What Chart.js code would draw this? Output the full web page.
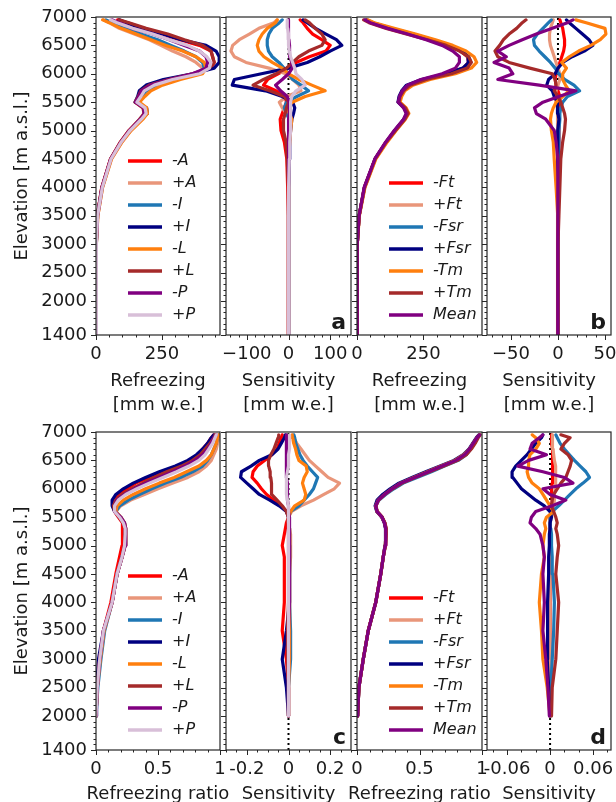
<!DOCTYPE html>
<html>
<head>
<meta charset="utf-8">
<script src="https://cdn.jsdelivr.net/npm/chart.js@4/dist/chart.umd.min.js"></script>
<style>
html, body { margin: 0; padding: 0; background: #fff; width: 616px; height: 802px; overflow: hidden; }
canvas { position: absolute; }
</style>
</head>
<body>
<script>
// elevation levels (m a.s.l.) shared by every profile
const elev = [1400, 2000, 2500, 3000, 3500, 4000, 4500, 4800, 5000, 5200, 5300, 5400, 5500, 5600,
  5700, 5800, 5900, 6000, 6100, 6200, 6300, 6400, 6500, 6600, 6700, 6800, 6900, 6950];
const elevTicks = [1400, 2000, 2500, 3000, 3500, 4000, 4500, 5000, 5500, 6000, 6500, 7000];

const labelsA = ['-A', '+A', '-I', '+I', '-L', '+L', '-P', '+P'];
const labelsF = ['-Ft', '+Ft', '-Fsr', '+Fsr', '-Tm', '+Tm', 'Mean'];
const colorsA = ['#ff0000', '#e9967a', '#1f77b4', '#000080', '#ff7f0e', '#a52a2a', '#800080', '#d8bfd8'];
const colorsF = ['#ff0000', '#e9967a', '#1f77b4', '#000080', '#ff7f0e', '#a52a2a', '#800080'];

// a) refreezing [mm w.e.]
const refr_mA = [0,0,1,2,5,22,55,93,125, 168,185,180,150,162,172,202,284,379,436,448,442,436,392,316,253,177,120,82];
const refr_pA = [0,0,1,3,7,25,58,98,132, 175,192,188,158,175,190,234,300,392,404,379,341,290,246,202,145,88,50,30];
const refr_mI = [0,0,1,3,6,24,57,96,130, 172,190,186,155,172,190,240,300,385,410,404,379,335,284,234,170,107,60,38];
const refr_pI = [0,0,1,2,5,23,56,95,128, 168,195,192,148,158,164,190,255,366,448,467,467,455,417,322,253,164,115,88];
const refr_mL = [0,0,1,3,7,25,59,99,133, 178,195,192,165,185,208,252,320,404,417,410,379,328,265,208,152,95,50,25];
const refr_pL = [0,0,1,2,5,22,55,93,125, 165,182,178,148,160,170,202,275,366,430,448,442,436,404,335,272,190,125,88];
const refr_mP = [0,0,1,2,6,23,56,95,127, 168,185,182,150,162,172,208,280,366,417,423,417,392,335,278,215,139,88,60];
const refr_pP = [0,0,1,3,6,24,57,96,129, 172,190,186,155,170,183,221,290,392,430,436,420,392,347,278,215,139,80,55];

// a) sensitivity [mm w.e.]
const sens_mA = [0,0,0,0,-1,-2,-4,-10,-18, -20,-15,-10,-5,-8,-30,-60,-50,-25,0,18,50,90,100,80,58,45,35,28];
const sens_pA = [0,0,0,0,0,0,0,2,5, 5,-5,-15,-22,-5,30,25,10,-7,-47,-102,-130,-138,-134,-118,-94,-71,-35,-27];
const sens_mI = [0,0,0,0,0,0,1,2,2, 2,-5,-10,-5,20,48,30,10,0,-11,-23,-39,-48,-51,-51,-47,-39,-22,-15];
const sens_pI = [0,0,0,0,0,1,2,3,5, 8,12,15,10,-15,-55,-135,-130,-65,0,45,75,100,128,115,90,65,45,35];
const sens_mL = [0,0,0,0,0,0,1,3,5, 8,2,-3,9,40,88,56,25,0,-15,-39,-59,-71,-75,-71,-63,-51,-31,-27];
const sens_pL = [0,0,0,0,0,-1,-3,-6,-12, -12,-8,-5,0,-10,-45,-85,-60,-30,-5,10,25,48,80,88,80,64,50,40];
const sens_mP = [0,0,0,0,0,0,0,0,0, 1,2,2,2,-3,-19,-31,-15,0,9,8,3,3,2,1,0,0,0,0];
const sens_pP = [0,0,0,0,0,1,2,3,5, 5,5,5,5,8,18,40,32,18,15,10,5,2,0,0,0,-2,-3,-3];

// b) refreezing [mm w.e.]
const refrF_mFt = [0,0,1,2,8,28,68,110,142, 177,188,178,155,160,172,193,250,340,400,420,415,390,345,280,205,125,55,35];
const refrF_pFt = [0,0,1,2,8,28,69,111,143, 178,189,179,156,161,173,195,252,342,402,422,417,392,347,282,207,127,57,36];
const refrF_mFsr = [0,0,1,2,8,29,69,111,144, 179,190,180,157,163,176,200,258,350,408,428,420,392,345,278,202,122,52,32];
const refrF_pFsr = [0,0,1,2,8,28,68,110,142, 176,187,177,154,158,168,186,243,335,398,420,418,395,350,285,210,130,60,38];
const refrF_mTm = [0,0,1,2,9,30,71,114,147, 182,195,185,162,168,180,210,275,370,430,450,440,410,360,295,220,140,65,40];
const refrF_pTm = [0,0,1,2,8,28,68,110,145, 180,192,182,158,162,175,200,260,355,415,430,420,385,335,265,185,110,45,25];
const refrF_mean = [0,0,1,2,8,27,67,108,140, 175,185,175,155,160,170,190,240,320,370,385,385,360,320,260,190,115,50,30];

// b) sensitivity [mm w.e.]
const sensF_mFt = [0,0,0,0,0,0,0,1,1, 1,1,2,2,2,0,-2,-3,-2,0,2,4,6,7,7,6,5,3,2];
const sensF_pFt = [0,0,0,0,0,0,0,-1,-1, -1,-1,-1,-2,-3,-2,0,2,2,0,-2,-4,-6,-8,-9,-9,-8,-6,-5];
const sensF_mFsr = [0,0,0,0,0,1,1,1,1, 2,2,3,5,10,23,17,7,1,-3,-8,-14,-20,-25,-26,-22,-16,-10,-7];
const sensF_pFsr = [0,0,0,0,0,0,-1,-1,0, 1,0,-1,0,-4,-6,-12,-10,-3,0,5,15,28,37,33,26,19,12,9];
const sensF_mTm = [0,0,0,0,-1,-2,-4,-5,-7, -8,-7,-5,-2,5,12,8,5,5,9,4,12,22,35,45,51,50,30,19];
const sensF_pTm = [0,0,0,0,1,2,3,5,7, 8,7,5,3,0,-4,-2,-3,-6,-30,-52,-64,-67,-62,-58,-52,-44,-38,-34];
const sensF_mean = [0,0,0,0,0,0,-1,-2,-4, -13,-23,-25,-16,1,19,-20,-64,-48,-52,-68,-55,-64,-52,-38,-23,-6,10,16];

// c) refreezing ratio
const ratio_mA = [null,0,0.01,0.03,0.06,0.12,0.16,0.19,0.21, 0.215,0.215,0.21,0.18, 0.15,0.14,0.15,0.19,0.25,0.32,0.43,0.54,0.66,0.75,0.82,0.86,0.9,0.93,0.95];
const ratio_pA = [null,0,0.01,0.035,0.065,0.13,0.17,0.21,0.235, 0.24,0.24,0.23,0.2, 0.16,0.2,0.28,0.39,0.5,0.62,0.74,0.83,0.89,0.93,0.95,0.97,0.98,0.99,0.99];
const ratio_mI = [null,0,0.015,0.04,0.07,0.13,0.17,0.21,0.235, 0.24,0.24,0.23,0.2, 0.16,0.19,0.26,0.35,0.45,0.56,0.68,0.78,0.86,0.9,0.93,0.95,0.97,0.98,0.99];
const ratio_pI = [null,0,0.005,0.02,0.06,0.13,0.17,0.21,0.23, 0.235,0.235,0.22,0.19, 0.15,0.13,0.13,0.16,0.22,0.3,0.4,0.51,0.64,0.74,0.81,0.86,0.9,0.93,0.95];
const ratio_mL = [null,0,0.01,0.035,0.065,0.13,0.17,0.21,0.235, 0.24,0.24,0.23,0.2, 0.16,0.17,0.22,0.3,0.4,0.51,0.63,0.73,0.83,0.89,0.93,0.95,0.97,0.98,0.99];
const ratio_pL = [null,0,0.01,0.03,0.06,0.13,0.17,0.21,0.23, 0.235,0.235,0.22,0.19, 0.15,0.14,0.16,0.21,0.29,0.38,0.47,0.57,0.69,0.78,0.84,0.88,0.92,0.95,0.96];
const ratio_mP = [null,0,0.01,0.03,0.06,0.13,0.17,0.21,0.235, 0.24,0.24,0.23,0.2, 0.15,0.15,0.17,0.23,0.31,0.4,0.51,0.62,0.72,0.8,0.86,0.9,0.93,0.95,0.97];
const ratio_pP = [null,0,0.01,0.03,0.06,0.13,0.17,0.21,0.23, 0.235,0.235,0.22,0.19, 0.15,0.15,0.18,0.24,0.33,0.43,0.54,0.65,0.75,0.83,0.88,0.91,0.94,0.96,0.97];

// c) sensitivity of the ratio
const rsens_mA = [null,0,0,-0.01,-0.03,-0.02,-0.02,-0.02,-0.03, -0.02,-0.015,-0.01,0, -0.01,-0.035,-0.07,-0.105,-0.13,-0.15,-0.175,-0.17,-0.15,-0.115,-0.08,-0.055,-0.045,-0.035,-0.03];
const rsens_pA = [null,0,0,0,0.005,0.005,0.005,0.01,0.01, 0.01,0.005,0,0, 0.015,0.06,0.12,0.17,0.22,0.245,0.19,0.16,0.13,0.1,0.08,0.06,0.04,0.025,0.018];
const rsens_mI = [null,0,0,0.01,0.01,0.005,0.005,0.005,0.005, 0.005,0.005,0,0, 0.01,0.05,0.075,0.1,0.12,0.13,0.14,0.115,0.09,0.07,0.055,0.045,0.035,0.03,0.026];
const rsens_pI = [null,0,-0.01,-0.03,-0.01,0.005,0.005,0.005,0.005, 0,0,0,0, -0.01,-0.045,-0.09,-0.14,-0.17,-0.2,-0.23,-0.226,-0.18,-0.14,-0.08,-0.05,-0.035,-0.02,-0.015];
const rsens_mL = [null,0,0,0.005,0.005,0.005,0.005,0.005,0.005, 0.005,0.005,0,0, 0.01,0.03,0.075,0.083,0.075,0.067,0.075,0.09,0.085,0.05,0.04,0.034,0.025,0.02,0.018];
const rsens_pL = [null,0,0,-0.005,-0.005,0,0,0,0, 0,0,0,0, -0.01,-0.03,-0.055,-0.08,-0.08,-0.083,-0.085,-0.088,-0.095,-0.096,-0.085,-0.07,-0.06,-0.05,-0.047];
const rsens_mP = [null,0,0,0,0,0.005,0.005,0.005,0.005, 0.005,0.005,0.005,0.005, 0,0,-0.005,-0.005,-0.005,-0.005,-0.01,-0.01,-0.01,-0.01,-0.01,-0.01,-0.01,-0.01,-0.01];
const rsens_pP = [null,0,0,0,0,0,0,0,0, 0,0,0,0, 0,0,-0.005,-0.01,-0.01,-0.01,-0.01,-0.005,0,0,0,0.005,0.005,0.005,0.005];

// d) refreezing ratio
const ratioF_mFt = [null,0.005,0.015,0.05,0.09,0.15,0.19,0.21,0.225, 0.23,0.23,0.22,0.2, 0.16,0.15,0.17,0.22,0.28,0.35,0.46,0.57,0.68,0.79,0.86,0.9,0.93,0.96,0.98];
const ratioF_pFt = [null,0.005,0.015,0.05,0.09,0.15,0.19,0.21,0.226, 0.232,0.232,0.222,0.2, 0.16,0.15,0.17,0.22,0.285,0.355,0.465,0.575,0.685,0.795,0.865,0.905,0.935,0.96,0.98];
const ratioF_mFsr = [null,0.005,0.015,0.05,0.09,0.15,0.19,0.21,0.226, 0.232,0.232,0.222,0.2, 0.16,0.15,0.175,0.23,0.295,0.37,0.48,0.595,0.7,0.81,0.875,0.91,0.94,0.965,0.98];
const ratioF_pFsr = [null,0.005,0.015,0.05,0.09,0.15,0.19,0.21,0.224, 0.228,0.228,0.218,0.198, 0.158,0.145,0.16,0.205,0.265,0.335,0.44,0.55,0.665,0.775,0.85,0.895,0.925,0.955,0.975];
const ratioF_mTm = [null,0.005,0.015,0.05,0.09,0.15,0.19,0.21,0.226, 0.232,0.232,0.222,0.2, 0.16,0.15,0.17,0.22,0.28,0.35,0.455,0.565,0.675,0.785,0.855,0.9,0.93,0.96,0.98];
const ratioF_pTm = [null,0.005,0.015,0.05,0.09,0.15,0.19,0.21,0.228, 0.234,0.234,0.224,0.202, 0.162,0.152,0.172,0.222,0.285,0.36,0.465,0.58,0.695,0.805,0.875,0.915,0.945,0.97,0.985];
const ratioF_mean = [null,0.005,0.015,0.05,0.09,0.15,0.19,0.21,0.225, 0.23,0.23,0.22,0.2, 0.16,0.15,0.17,0.22,0.28,0.35,0.46,0.57,0.68,0.79,0.86,0.9,0.93,0.96,0.98];

// d) sensitivity of the ratio
const rsensF_mFt = [null,0,0,0,0,0,0,0,0, 0,0,0,0, 0.002,0.003,0.003,0.002,0.002,0.003,0.004,0.004,0.004,0.003,0.003,0.003,0.002,0.002,0.002];
const rsensF_pFt = [null,0,0,0,0,0,0,0,0, 0,0,0,0.002, 0.003,0.005,0.006,0.006,0.007,0.008,0.008,0.008,0.007,0.006,0.005,0.004,0.004,0.003,0.003];
const rsensF_mFsr = [null,0,0.001,0.003,0.005,0.006,0.004,0.003,0.002, 0.002,0.001,0,0, 0.003,0.012,0.02,0.028,0.036,0.046,0.055,0.05,0.042,0.034,0.027,0.02,0.014,0.01,0.008];
const rsensF_pFsr = [null,0,-0.002,-0.004,-0.004,-0.003,-0.002,-0.002,-0.001, -0.001,0,0,0.002, 0,-0.008,-0.02,-0.03,-0.04,-0.046,-0.052,-0.053,-0.048,-0.04,-0.032,-0.026,-0.02,-0.012,-0.01];
const rsensF_mTm = [null,0,-0.004,-0.01,-0.012,-0.015,-0.012,-0.008,-0.01, -0.008,-0.006,-0.008,-0.005, 0.005,0,-0.005,-0.01,-0.015,-0.025,-0.03,-0.032,-0.03,-0.03,-0.028,-0.02,-0.015,-0.02,-0.025];
const rsensF_pTm = [null,0.002,0.003,0.008,0.01,0.012,0.008,0.01,0.012, 0.01,0.008,0.01,0.008, 0.005,0.002,0.003,0.005,0.01,0.015,0.022,0.025,0.028,0.03,0.025,0.015,0.02,0.028,0.015];
const rsensF_mean = [null,-0.001,-0.003,-0.006,-0.01,-0.008,-0.01,-0.008,-0.01, -0.014,-0.02,-0.028,-0.026, -0.02,0.003,0.022,0,-0.01,0.032,0.02,-0.01,-0.045,-0.03,-0.005,-0.028,-0.025,-0.015,-0.01];

// x tick labels per panel
const ticksRefr = [0, 250], textRefr = ['0', '250'];
const ticksSensA = [-100, 0, 100], textSensA = ['\u2212100', '0', '100'];
const ticksSensB = [-50, 0, 50], textSensB = ['\u221250', '0', '50'];
const ticksRatio = [0, 0.5, 1], textRatio = ['0', '0.5', '1'];
const ticksSensC = [-0.2, 0, 0.2], textSensC = ['-0.2', '0', '0.2'];
const ticksSensD = [-0.06, 0, 0.06], textSensD = ['-0.06', '0', '0.06'];

Chart.defaults.font.family = '"DejaVu Sans"';
Chart.defaults.color = '#1a1a1a';

const rowTop = [17, 432], rowBottom = [335, 750];
const colLeft = [96, 226, 357, 487], colRight = [220, 351, 482, 611];

function tickList(min, max, step) {
  const out = [];
  for (let k = Math.ceil(min / step - 1e-9); k * step <= max + 1e-9; k++) out.push(+(k * step).toFixed(6));
  return out;
}

// frame, tick marks, x titles, legend and panel letter
const deco = {
  id: 'deco',
  afterDraw(chart, args, o) {
    const {ctx, chartArea: a} = chart;
    const x = chart.scales.x, y = chart.scales.y;
    ctx.save();
    ctx.strokeStyle = '#262626';
    ctx.lineWidth = 1;
    ctx.beginPath();
    y.ticks.forEach(t => {
      const p = Math.round(y.getPixelForValue(t.value)) + 0.5;
      const len = t.label ? 5 : 2.5;
      ctx.moveTo(a.left - len, p); ctx.lineTo(a.left, p);
    });
    x.ticks.forEach(t => {
      const p = Math.round(x.getPixelForValue(t.value)) + 0.5;
      const len = t.label ? 5 : 2.5;
      ctx.moveTo(p, a.bottom); ctx.lineTo(p, a.bottom + len);
    });
    ctx.stroke();
    ctx.lineWidth = 1.2;
    ctx.strokeRect(a.left, a.top, a.right - a.left, a.bottom - a.top);

    ctx.fillStyle = '#1a1a1a';
    ctx.font = '18px "DejaVu Sans"';
    ctx.textAlign = 'center';
    ctx.textBaseline = 'middle';
    o.title.forEach((s, i) => ctx.fillText(s, (a.left + a.right) / 2, a.bottom + o.titleOffset + i * 24));

    if (o.legend) {
      const ds = chart.data.datasets.filter(d => d.label);
      ctx.font = 'italic 16px "DejaVu Sans"';
      ctx.textAlign = 'left';
      ds.forEach((d, i) => {
        const yy = a.bottom - 20 - (ds.length - 1 - i) * 22;
        ctx.strokeStyle = d.borderColor;
        ctx.lineWidth = 3.5;
        ctx.beginPath(); ctx.moveTo(a.left + 32, yy); ctx.lineTo(a.left + 66, yy); ctx.stroke();
        ctx.fillText(d.label, a.left + 76, yy);
      });
    }
    if (o.letter) {
      ctx.font = 'bold 22px "DejaVu Sans"';
      ctx.textAlign = 'right';
      ctx.textBaseline = 'alphabetic';
      ctx.fillText(o.letter, a.right - 5, a.bottom - 6);
    }
    ctx.restore();
  }
};

const panels = [
  {col: 0, row: 0, series: [refr_mA, refr_pA, refr_mI, refr_pI, refr_mL, refr_pL, refr_mP, refr_pP], labels: labelsA, colors: colorsA,
    min: 0, max: 470, step: 50, major: ticksRefr, text: textRefr, title: ['Refreezing', '[mm w.e.]'], legend: true},
  {col: 1, row: 0, series: [sens_mA, sens_pA, sens_mI, sens_pI, sens_mL, sens_pL, sens_mP, sens_pP], labels: labelsA, colors: colorsA,
    min: -150, max: 150, step: 20, major: ticksSensA, text: textSensA, title: ['Sensitivity', '[mm w.e.]'], zero: true, letter: 'a'},
  {col: 2, row: 0, series: [refrF_mFt, refrF_pFt, refrF_mFsr, refrF_pFsr, refrF_mTm, refrF_pTm, refrF_mean], labels: labelsF, colors: colorsF,
    min: 0, max: 470, step: 50, major: ticksRefr, text: textRefr, title: ['Refreezing', '[mm w.e.]'], legend: true},
  {col: 3, row: 0, series: [sensF_mFt, sensF_pFt, sensF_mFsr, sensF_pFsr, sensF_mTm, sensF_pTm, sensF_mean], labels: labelsF, colors: colorsF,
    min: -75.5, max: 56.4, step: 10, major: ticksSensB, text: textSensB, title: ['Sensitivity', '[mm w.e.]'], zero: true, letter: 'b'},
  {col: 0, row: 1, series: [ratio_mA, ratio_pA, ratio_mI, ratio_pI, ratio_mL, ratio_pL, ratio_mP, ratio_pP], labels: labelsA, colors: colorsA,
    min: 0, max: 1, step: 0.1, major: ticksRatio, text: textRatio, title: ['Refreezing ratio'], legend: true},
  {col: 1, row: 1, series: [rsens_mA, rsens_pA, rsens_mI, rsens_pI, rsens_mL, rsens_pL, rsens_mP, rsens_pP], labels: labelsA, colors: colorsA,
    min: -0.3, max: 0.3, step: 0.05, major: ticksSensC, text: textSensC, title: ['Sensitivity'], zero: true, letter: 'c'},
  {col: 2, row: 1, series: [ratioF_mFt, ratioF_pFt, ratioF_mFsr, ratioF_pFsr, ratioF_mTm, ratioF_pTm, ratioF_mean], labels: labelsF, colors: colorsF,
    min: 0, max: 1, step: 0.1, major: ticksRatio, text: textRatio, title: ['Refreezing ratio'], legend: true},
  {col: 3, row: 1, series: [rsensF_mFt, rsensF_pFt, rsensF_mFsr, rsensF_pFsr, rsensF_mTm, rsensF_pTm, rsensF_mean], labels: labelsF, colors: colorsF,
    min: -0.088, max: 0.085, step: 0.02, major: ticksSensD, text: textSensD, title: ['Sensitivity'], zero: true, letter: 'd'}
];

panels.forEach(p => {
  const L = colLeft[p.col], R = colRight[p.col], T = rowTop[p.row], B = rowBottom[p.row];
  const first = p.col === 0;
  const ml = first ? L : 8, mr = 15, mt = 15, mb = p.row === 0 ? 85 : 56;
  const cv = document.createElement('canvas');
  cv.width = ml + (R - L) + mr;
  cv.height = mt + (B - T) + mb;
  cv.style.left = (L - ml) + 'px';
  cv.style.top = (T - mt) + 'px';
  document.body.appendChild(cv);

  const datasets = p.series.map((vals, i) => ({
    label: p.labels[i],
    data: elev.map((e, k) => ({x: vals[k], y: e})),
    borderColor: p.colors[i],
    borderWidth: 3.2,
    borderJoinStyle: 'round',
    borderCapStyle: 'round',
    pointRadius: 0,
    order: -i
  }));
  if (p.zero) {
    datasets.push({
      data: [{x: 0, y: elevTicks[0]}, {x: 0, y: elevTicks[elevTicks.length - 1]}],
      borderColor: '#000', borderWidth: 2, borderDash: [2, 3], pointRadius: 0, order: 1
    });
  }
  const xTicks = tickList(p.min, p.max, p.step);
  const yTicks = tickList(elevTicks[0], elevTicks[elevTicks.length - 1], 100);

  new Chart(cv, {
    type: 'line',
    data: {datasets},
    options: {
      responsive: false,
      animation: false,
      devicePixelRatio: 1,
      layout: {padding: {left: 0, right: mr, top: mt, bottom: 0}},
      plugins: {
        legend: {display: false},
        tooltip: {enabled: false},
        deco: {title: p.title, titleOffset: p.row === 0 ? 46 : 44, legend: !!p.legend, letter: p.letter}
      },
      scales: {
        x: {
          type: 'linear', min: p.min, max: p.max,
          grid: {display: false, drawTicks: false},
          border: {display: false},
          afterBuildTicks: s => { s.ticks = xTicks.map(v => ({value: v})); },
          afterFit: s => { s.height = mb; s.paddingLeft = 0; s.paddingRight = 0; },
          ticks: {
            autoSkip: false, maxRotation: 0, minRotation: 0, padding: 9,
            font: {size: 18}, color: '#1a1a1a',
            callback: v => {
              const k = p.major.findIndex(m => Math.abs(m - v) < 1e-9);
              return k >= 0 ? p.text[k] : '';
            }
          }
        },
        y: {
          type: 'linear', min: elevTicks[0], max: elevTicks[elevTicks.length - 1],
          grid: {display: false, drawTicks: false},
          border: {display: false},
          afterBuildTicks: s => { s.ticks = yTicks.map(v => ({value: v})); },
          afterFit: s => { s.width = ml; s.paddingTop = 0; s.paddingBottom = 0; },
          title: {display: first, text: 'Elevation [m a.s.l.]', font: {size: 18}, color: '#1a1a1a', padding: {top: 12, bottom: 0}},
          ticks: {
            display: first, autoSkip: false, padding: 9,
            font: {size: 18}, color: '#1a1a1a',
            callback: v => elevTicks.includes(v) ? String(v) : ''
          }
        }
      }
    },
    plugins: [deco]
  });
});
</script>
</body>
</html>
